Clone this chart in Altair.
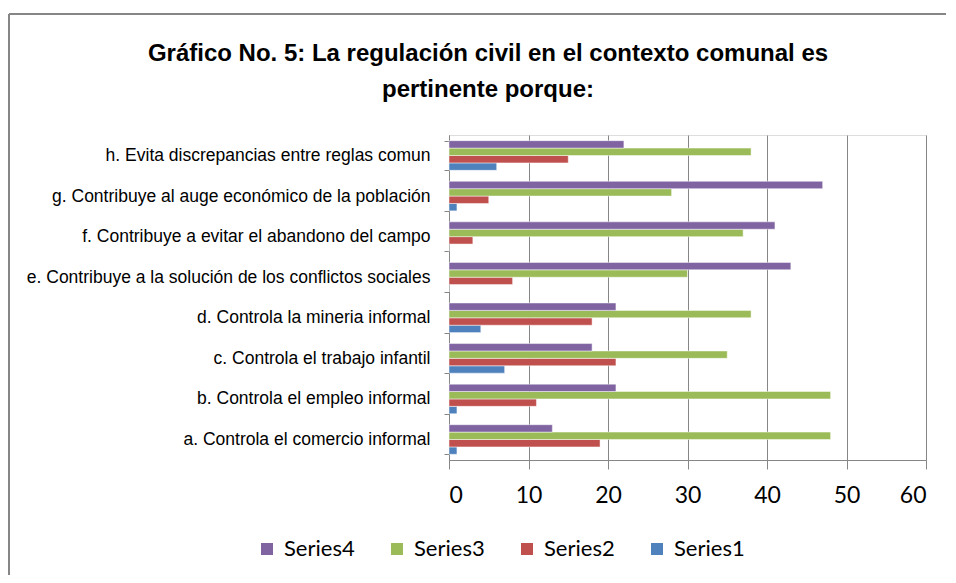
import altair as alt
import pandas as pd

categories = [
    "a. Controla el comercio informal",
    "b. Controla el empleo informal",
    "c. Controla el trabajo infantil",
    "d. Controla la mineria informal",
    "e. Contribuye a la solución de los conflictos sociales",
    "f.  Contribuye a evitar el abandono del campo",
    "g. Contribuye al auge económico de la población",
    "h. Evita discrepancias entre reglas comun",
]
series1 = [1, 1, 7, 4, 0, 0, 1, 6]
series2 = [19, 11, 21, 18, 8, 3, 5, 15]
series3 = [48, 48, 35, 38, 30, 37, 28, 38]
series4 = [13, 21, 18, 21, 43, 41, 47, 22]
series_names = ["Series4", "Series3", "Series2", "Series1"]
series_colors = ["#8064A2", "#9BBB59", "#C0504D", "#4F81BD"]
x_ticks = [0, 10, 20, 30, 40, 50, 60]
title_lines = ["Gráfico No. 5: La regulación civil en el contexto comunal es", "pertinente porque:"]

rows = []
for name, vals in zip(["Series1", "Series2", "Series3", "Series4"], [series1, series2, series3, series4]):
    for c, v in zip(categories, vals):
        rows.append({"cat": c, "series": name, "value": v})
df = pd.DataFrame(rows)

W, H = 477, 325

bars = alt.Chart(df).mark_bar(stroke="white", strokeOpacity=0.6, strokeWidth=0.8).encode(
    y=alt.Y("cat:N", sort=list(reversed(categories)), title=None,
            scale=alt.Scale(paddingInner=0.27, paddingOuter=0.14),
            axis=alt.Axis(tickBand="extent", labelFont="Liberation Sans", labelFontSize=17.5,
                          labelColor="#000000", labelPadding=14, tickSize=5, tickColor="#868686",
                          domainColor="#868686", labelLimit=500)),
    yOffset=alt.YOffset("series:N", sort=series_names, scale=alt.Scale(domain=series_names)),
    x=alt.X("value:Q", title=None,
            scale=alt.Scale(domain=[0, 60], nice=False),
            axis=alt.Axis(values=x_ticks, grid=True, gridColor="#868686", gridWidth=1,
                          labelFont="Lato", labelFontSize=23, labelColor="#000000",
                          labelPadding=15, tickSize=9, tickColor="#868686", domainColor="#868686")),
    color=alt.Color("series:N", sort=series_names,
                    scale=alt.Scale(domain=series_names, range=series_colors),
                    legend=alt.Legend(title=None, orient="none", direction="horizontal",
                                      legendX=-193, legendY=403, symbolType="square",
                                      symbolSize=144, symbolStrokeWidth=0,
                                      labelFont="Lato", labelFontSize=22, labelColor="#000000",
                                      labelOffset=6, columnPadding=31)),
)

one = pd.DataFrame({"k": [0]})
top_line = alt.Chart(one).mark_rule(color="#868686", strokeWidth=2).encode(
    x=alt.value(-440), x2=alt.value(500), y=alt.value(-121))
left_line = alt.Chart(one).mark_rule(color="#868686", strokeWidth=2).encode(
    x=alt.value(-440), y=alt.value(-121), y2=alt.value(440))

title1 = alt.Chart(one).mark_text(
    font="Liberation Sans", fontSize=24, fontWeight="bold", color="#000000",
    align="center", baseline="alphabetic").encode(
    x=alt.value(39), y=alt.value(-74), text=alt.value(title_lines[0]))
title2 = alt.Chart(one).mark_text(
    font="Liberation Sans", fontSize=24, fontWeight="bold", color="#000000",
    align="center", baseline="alphabetic").encode(
    x=alt.value(39), y=alt.value(-38), text=alt.value(title_lines[1]))

chart = alt.layer(bars, top_line, left_line, title1, title2).properties(
    width=W, height=H,
    autosize=alt.AutoSizeParams(type="none"),
    padding={"left": 441, "top": 127, "right": 20, "bottom": 115},
).configure_view(stroke=None).configure(background="white")

chart.save("out.html", embed_options={"renderer": "svg", "actions": False})
